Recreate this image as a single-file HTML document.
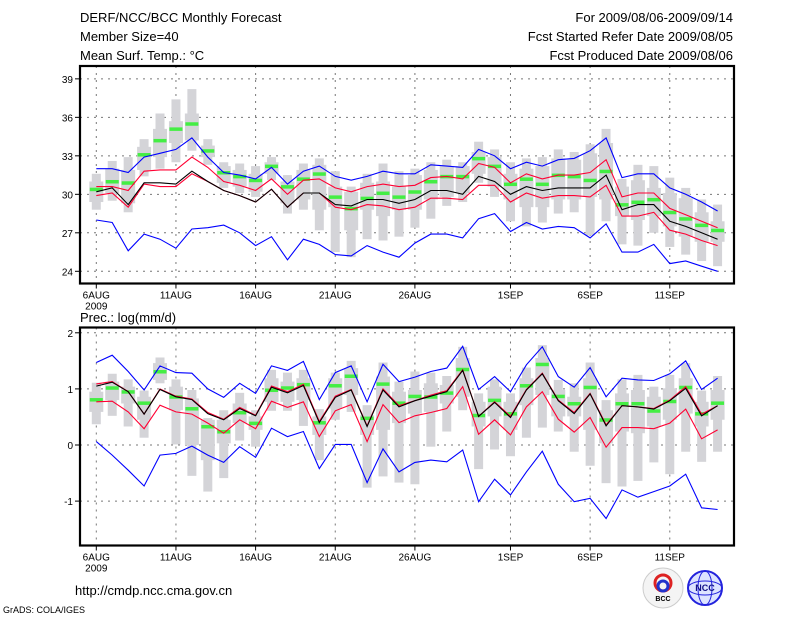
<!DOCTYPE html>
<html><head><meta charset="utf-8">
<style>
body{margin:0;background:#fff;width:800px;height:618px;overflow:hidden;}
svg{display:block;font-family:"Liberation Sans",sans-serif;}
</style></head><body>
<svg id="c" width="800" height="618" xmlns="http://www.w3.org/2000/svg">
<text x="80" y="22" font-size="13">DERF/NCC/BCC Monthly Forecast</text>
<text x="80" y="41" font-size="13">Member Size=40</text>
<text x="80" y="60" font-size="13">Mean Surf. Temp.: °C</text>
<text x="733" y="22" font-size="13" text-anchor="end">For 2009/08/06-2009/09/14</text>
<text x="733" y="41" font-size="13" text-anchor="end">Fcst Started Refer Date 2009/08/05</text>
<text x="733" y="60" font-size="13" text-anchor="end">Fcst Produced Date 2009/08/06</text>
<text x="80" y="322" font-size="13">Prec.: log(mm/d)</text>
<text x="75" y="595" font-size="13">http://cmdp.ncc.cma.gov.cn</text>
<text x="3" y="613" font-size="9">GrADS: COLA/IGES</text>
<g>
<circle cx="663" cy="588" r="20" fill="#f4f4f4" stroke="#ccc"/>
<circle cx="663" cy="583" r="8" fill="none" stroke="#d22" stroke-width="3"/>
<circle cx="663" cy="586" r="5" fill="none" stroke="#23c" stroke-width="3"/>
<text x="663" y="601" font-size="7" text-anchor="middle" font-weight="bold">BCC</text>
</g>
<g>
<circle cx="705" cy="588" r="17" fill="#dde4ff" stroke="#22d" stroke-width="2"/>
<ellipse cx="705" cy="588" rx="17" ry="7" fill="none" stroke="#22d"/>
<ellipse cx="705" cy="588" rx="7" ry="17" fill="none" stroke="#22d"/>
<text x="705" y="591" font-size="9" text-anchor="middle" fill="#118" font-weight="bold">NCC</text>
</g>
</svg>
<script>
const days=["6AUG","11AUG","16AUG","21AUG","26AUG","1SEP","6SEP","11SEP"];
const dayIdx=[0,5,10,15,20,26,31,36];
// Temperature panel
const tTicks=[24,27,30,33,36,39];
const tBlueU=[32.0,32.0,31.7,32.9,33.2,33.5,34.4,32.9,31.7,31.5,31.2,32.1,30.8,31.8,32.2,31.4,31.1,31.4,31.8,31.6,31.6,32.3,32.2,32.1,33.5,33.0,32.0,32.5,32.2,32.7,32.8,33.4,34.4,31.3,31.6,31.6,30.5,30.0,29.4,28.7];
const tRedU=[30.6,30.6,30.3,31.8,31.9,31.9,32.9,32.1,31.0,30.7,30.3,31.2,30.0,31.1,31.2,30.5,30.2,30.6,30.8,30.6,30.7,31.3,31.4,31.2,32.4,32.1,30.9,31.6,31.2,31.5,31.5,31.7,32.7,29.8,30.1,30.1,28.9,28.4,27.9,27.4];
const tMean=[30.2,30.5,29.2,30.9,30.9,30.8,31.8,31.0,30.3,29.9,29.4,30.4,29.0,30.1,30.1,29.2,29.1,29.6,29.6,29.3,29.6,30.3,30.3,30.0,31.4,31.0,30.0,30.6,30.3,30.5,30.5,30.5,31.5,28.8,29.2,29.2,27.9,27.5,27.0,26.5];
const tRedL=[29.9,30.1,29.0,30.8,30.6,30.6,31.6,31.0,30.3,29.9,29.4,30.4,29.0,30.1,30.1,29.0,28.8,29.2,29.1,28.8,29.0,29.7,29.7,29.6,30.7,30.7,29.4,30.1,29.7,29.9,29.9,29.8,30.7,28.3,28.3,28.6,27.2,26.9,26.4,26.0];
const tBlueL=[28.0,27.8,25.6,26.9,26.5,25.8,27.3,27.4,27.6,27.0,26.0,26.7,24.9,26.5,26.1,25.3,25.2,26.0,25.5,25.1,26.2,26.9,26.9,26.6,28.1,28.5,27.1,27.8,27.3,27.5,27.4,26.6,27.7,25.5,25.5,26.1,24.6,24.8,24.4,24.0];
const tObs=[30.4,31.0,30.9,33.1,34.2,35.1,35.5,33.4,31.7,31.4,31.1,32.2,30.6,31.2,31.6,29.8,28.9,29.7,30.1,29.8,30.2,31.0,31.4,31.4,32.8,32.2,30.8,31.2,30.8,31.5,31.4,31.1,31.8,29.2,29.4,29.6,28.6,28.1,27.6,27.2];
const tMax=[31.6,32.6,32.9,34.3,36.3,37.4,38.2,34.3,32.5,32.4,32.2,32.9,31.5,32.4,32.8,31.8,30.6,31.6,32.4,31.8,32.0,32.5,32.7,32.5,34.1,33.5,32.5,32.8,32.9,33.5,33.3,33.9,35.1,31.2,32.3,32.2,31.3,30.5,29.6,29.2];
const tMin=[28.8,29.5,28.6,31.4,32.0,32.5,33.4,32.3,30.5,30.1,29.8,31.1,28.5,28.8,27.2,25.5,25.1,26.5,26.4,26.7,27.4,28.1,29.1,29.4,30.9,29.8,27.9,27.5,27.8,28.5,28.6,26.8,27.9,26.1,26.0,27.0,25.9,25.3,24.8,24.4];
const tQ3=[31.0,32.0,31.9,33.7,35.1,35.7,36.3,33.8,32.2,31.9,31.6,32.5,31.0,31.9,32.3,30.6,30.2,30.9,31.0,30.6,31.5,31.9,32.2,32.2,33.3,32.9,31.6,32.0,32.2,32.8,32.7,33.2,34.0,30.6,31.1,30.5,30.1,29.7,28.6,27.9];
const tQ1=[29.4,30.1,29.3,31.9,32.9,34.0,34.2,32.9,30.9,30.6,30.2,31.6,29.3,29.6,28.8,29.0,27.2,28.8,28.3,28.8,28.8,29.6,29.8,30.1,31.6,30.6,29.6,29.0,29.0,29.6,29.6,29.8,29.6,28.3,28.0,28.3,27.5,26.7,26.3,26.3];
// Precipitation panel
const pTicks=[-1,0,1,2];
const pBlueU=[1.47,1.60,1.31,0.98,1.41,1.29,1.28,1.00,0.85,1.10,0.92,1.41,1.33,1.49,0.81,1.29,1.41,0.77,1.44,1.13,1.21,1.31,1.37,1.76,0.99,1.22,0.95,1.43,1.75,1.22,1.03,1.38,0.86,1.19,1.16,1.15,1.27,1.50,0.99,1.19];
const pRedU=[1.09,1.13,0.95,0.55,1.00,0.87,0.82,0.58,0.46,0.67,0.53,1.05,0.95,1.08,0.42,0.87,0.99,0.34,1.00,0.70,0.79,0.89,0.97,1.34,0.51,0.77,0.51,0.99,1.28,0.80,0.58,0.92,0.36,0.70,0.68,0.65,0.80,1.04,0.55,0.70];
const pMean=[1.05,1.12,0.95,0.55,0.99,0.86,0.81,0.56,0.45,0.65,0.52,1.03,0.93,1.06,0.40,0.85,0.98,0.33,0.98,0.68,0.79,0.87,0.95,1.33,0.51,0.76,0.49,0.98,1.27,0.79,0.56,0.91,0.34,0.70,0.68,0.64,0.79,1.01,0.52,0.70];
const pRedL=[0.77,0.78,0.59,0.29,0.71,0.59,0.55,0.39,0.21,0.45,0.29,0.78,0.67,0.77,0.15,0.61,0.72,0.06,0.72,0.40,0.52,0.58,0.65,1.04,0.19,0.45,0.18,0.68,0.95,0.46,0.23,0.49,-0.04,0.31,0.31,0.29,0.39,0.64,0.11,0.27];
const pBlueL=[0.06,-0.18,-0.45,-0.73,-0.18,-0.15,-0.02,-0.18,-0.31,-0.03,-0.22,0.30,0.15,0.24,-0.42,0.01,0.01,-0.67,-0.07,-0.48,-0.31,-0.27,-0.30,-0.09,-1.01,-0.61,-0.89,-0.48,-0.11,-0.70,-1.01,-0.95,-1.31,-0.80,-0.93,-0.83,-0.73,-0.52,-1.12,-1.15];
const pObs=[0.81,1.02,0.95,0.75,1.31,0.86,0.65,0.33,0.24,0.58,0.39,0.98,1.02,1.08,0.40,1.06,1.23,0.48,1.09,0.75,0.87,0.86,0.93,1.35,0.53,0.80,0.56,1.06,1.44,0.87,0.74,1.03,0.45,0.74,0.74,0.61,0.78,1.03,0.56,0.75];
const pMax=[1.11,1.27,1.17,0.97,1.56,1.17,0.98,0.48,0.62,0.93,0.62,1.34,1.29,1.34,0.64,1.29,1.50,0.71,1.47,1.13,1.31,1.29,1.23,1.75,0.92,1.17,0.92,1.38,1.78,1.16,1.10,1.47,0.80,1.17,1.25,1.04,1.25,1.46,0.97,1.23];
const pMin=[0.37,0.52,0.33,0.13,1.10,0.01,-0.55,-0.83,-0.59,0.08,-0.03,0.61,0.61,0.34,-0.27,0.45,0.59,-0.76,-0.56,-0.67,-0.70,-0.03,0.24,0.62,-0.43,-0.08,-0.20,0.13,0.31,0.24,-0.12,-0.37,-0.68,-0.74,-0.64,-0.31,-0.52,-0.12,-0.30,-0.12];
const pQ3=[0.95,1.13,1.04,0.86,1.46,1.04,0.83,0.45,0.45,0.74,0.51,1.19,1.13,1.19,0.51,1.19,1.37,0.53,1.22,0.95,0.98,1.10,1.07,1.55,0.77,1.04,0.77,1.19,1.55,0.98,0.86,1.19,0.62,0.92,0.98,0.86,1.01,1.19,0.77,0.98];
const pQ1=[0.59,0.80,0.74,0.45,1.16,0.62,0.00,-0.27,0.03,0.39,0.27,0.77,0.77,0.80,0.18,0.65,0.89,0.18,0.27,0.39,0.56,0.59,0.74,0.86,0.33,0.51,0.27,0.71,0.89,0.51,0.51,0.27,0.03,0.24,0.21,0.33,0.45,0.56,0.33,0.45];

const NS="http://www.w3.org/2000/svg";
const svg=document.getElementById('c');
function mk(tag,attrs,parent){const e=document.createElementNS(NS,tag);for(const k in attrs)e.setAttribute(k,attrs[k]);(parent||svg).appendChild(e);return e;}
const X0=96.3,DX=15.93;
function xS(d){return X0+d*DX;}

function panel(cfg){
  const g=mk('g',{});
  
  
  const yS=v=>cfg.y0+(v-cfg.v0)*cfg.k;
  // gridlines
  cfg.ticks.forEach(t=>{
    const y=yS(t);
    const l=mk('line',{x1:80,x2:734,y1:y,y2:y,stroke:'#777','stroke-dasharray':'2,5','stroke-width':1},g);
    
    
    const tk=mk('line',{x1:75,x2:80,y1:y,y2:y,stroke:'#000'},g);
    
    
    const tx=mk('text',{x:73,y:y+4,'font-size':10,'text-anchor':'end'},g);
    tx.textContent=String(t);
    
    
  });
  days.forEach((lab,i)=>{
    const x=xS(dayIdx[i]);
    const l=mk('line',{x1:x,x2:x,y1:cfg.top,y2:cfg.bot,stroke:'#777','stroke-dasharray':'2,5'},g);
    
    
    const tk=mk('line',{x1:x,x2:x,y1:cfg.bot,y2:cfg.bot+5,stroke:'#000'},g);
    
    
    const tx=mk('text',{x:x,y:cfg.bot+15,'font-size':10,'text-anchor':'middle'},g);
    tx.textContent=lab;
    
    
  });
  const yr=mk('text',{x:xS(0),y:cfg.bot+26,'font-size':10,'text-anchor':'middle'},g);
  yr.textContent='2009';
  
  
  // boxes
  for(let i=0;i<cfg.max.length;i++){
    const x=xS(i);
    const w=mk('rect',{x:x-4.5,width:9,y:yS(cfg.max[i]),height:yS(cfg.min[i])-yS(cfg.max[i]),fill:'#d4d4d8'},g);
    
    
    const b=mk('rect',{x:x-7,width:14,y:yS(cfg.q3[i]),height:yS(cfg.q1[i])-yS(cfg.q3[i]),fill:'#d4d4d8'},g);
    
    
  }
  for(let i=0;i<cfg.obs.length;i++){
    const o=mk('rect',{x:xS(i)-6.5,width:13,y:yS(cfg.obs[i])-1.5,height:3.5,fill:'#44ee44'},g);
    
    
  }
  const series=[[cfg.bl,'#0000ff','lower-bound-line'],[cfg.bu,'#0000ff','upper-bound-line'],[cfg.rl,'#ff0033','lower-spread-line'],[cfg.ru,'#ff0033','upper-spread-line'],[cfg.mean,'#000000','ensemble-mean-line']];
  series.forEach(s=>{
    const p=mk('polyline',{points:s[0].map((v,i)=>xS(i).toFixed(1)+','+yS(v).toFixed(1)).join(' '),fill:'none',stroke:s[1],'stroke-width':1.1},g);
    
    
  });
  const f=mk('rect',{x:80,y:cfg.top,width:654,height:cfg.bot-cfg.top,fill:'none',stroke:'#000','stroke-width':2.2},g);
  
  
}
panel({name:'temperature-panel',top:66,bot:283.5,y0:271.3,v0:24,k:-12.83,ticks:tTicks,
  bu:tBlueU,ru:tRedU,mean:tMean,rl:tRedL,bl:tBlueL,obs:tObs,max:tMax,min:tMin,q3:tQ3,q1:tQ1});
panel({name:'precipitation-panel',top:327.5,bot:545.5,y0:445,v0:0,k:-56.1,ticks:pTicks,
  bu:pBlueU,ru:pRedU,mean:pMean,rl:pRedL,bl:pBlueL,obs:pObs,max:pMax,min:pMin,q3:pQ3,q1:pQ1});
</script>
</body></html>
